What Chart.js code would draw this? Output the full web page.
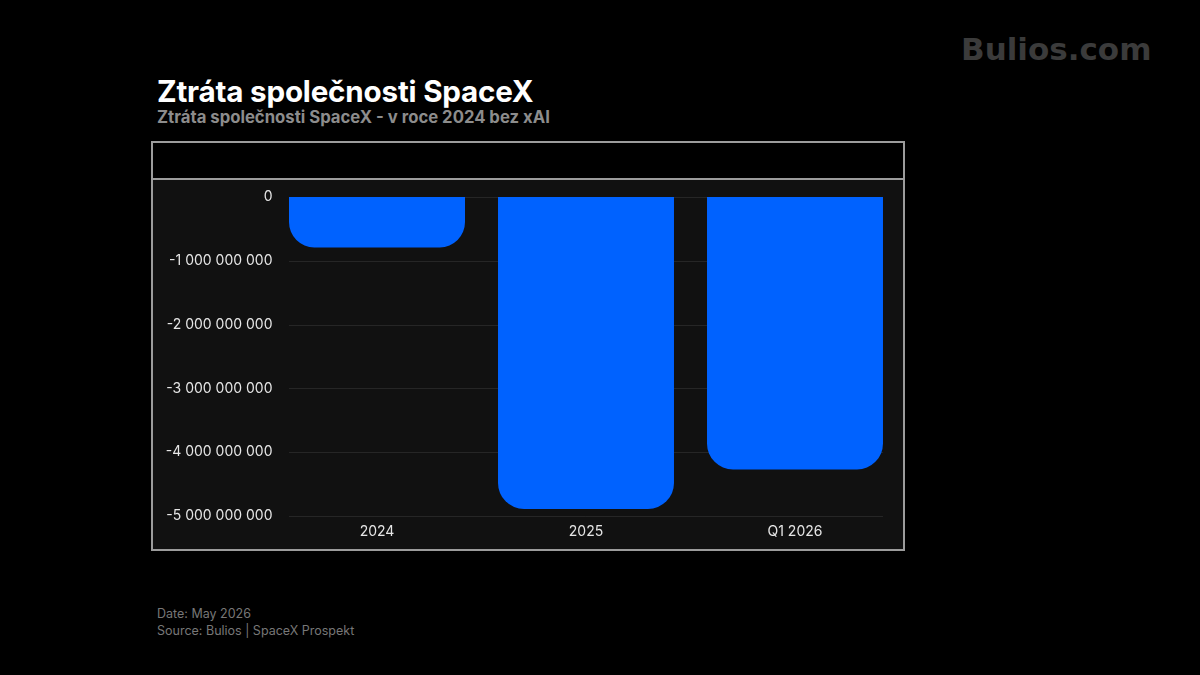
<!DOCTYPE html>
<html>
<head>
<meta charset="utf-8">
<script src="https://cdn.jsdelivr.net/npm/chart.js@4.4.1/dist/chart.umd.min.js"></script>
<style>
  html, body { margin:0; padding:0; background:#000; }
  body { width:1200px; height:675px; position:relative; overflow:hidden; font-family: Inter, "Noto Sans", sans-serif; }
  #title { position:absolute; left:157px; top:73px; font-size:29.6px; font-weight:700; color:#fff; letter-spacing:-0.2px; white-space:nowrap; }
  #subtitle { position:absolute; left:157px; top:107px; font-size:16.7px; font-weight:700; color:#8c8c8c; white-space:nowrap; }
  #logo { position:absolute; left:961px; top:31px; font-family:"DejaVu Sans", sans-serif; font-size:31px; font-weight:700; color:#3b3b3b; white-space:nowrap; }
  #footer { position:absolute; left:157px; top:605px; font-size:12.5px; color:#777; line-height:17px; white-space:nowrap; }
  #box { position:absolute; left:151px; top:141px; width:750px; height:406px; border:2px solid #9c9c9c; background:#000; }
  #plotbg { position:absolute; left:153px; top:180px; width:750px; height:369px; background:#111111; }
  #divider { position:absolute; left:153px; top:178px; width:750px; height:2px; background:#9c9c9c; }
  canvas { position:absolute; left:0; top:0; }
</style>
</head>
<body>
<div id="box"></div>
<div id="plotbg"></div>
<div id="divider"></div>
<div id="title">Ztráta společnosti SpaceX</div>
<div id="subtitle">Ztráta společnosti SpaceX - v roce 2024 bez xAI</div>
<div id="logo">Bulios.com</div>
<div id="footer">Date: May 2026<br>Source: Bulios | SpaceX Prospekt</div>
<canvas id="c" width="1200" height="675"></canvas>
<script>
const categories = ["2024", "2025", "Q1 2026"];
const lossValues = [-790000000, -4890000000, -4270000000];
const yTickValues = [0, -1000000000, -2000000000, -3000000000, -4000000000, -5000000000];

function fmt(v) {
  const neg = v < 0;
  const s = Math.abs(Math.round(v)).toString().replace(/\B(?=(\d{3})+(?!\d))/g, " ");
  return (neg ? "-" : "") + s;
}

const gridPlugin = {
  id: "customGrid",
  beforeDatasetsDraw(chart) {
    const ctx = chart.ctx;
    const y = chart.scales.y;
    const meta = chart.getDatasetMeta(0);
    const first = meta.data[0], last = meta.data[meta.data.length - 1];
    const left = first.x - first.width / 2;
    const right = last.x + last.width / 2;
    ctx.save();
    ctx.strokeStyle = "#262626";
    ctx.lineWidth = 1;
    y.ticks.forEach(t => {
      const py = Math.round(y.getPixelForValue(t.value)) + 0.5;
      ctx.beginPath();
      ctx.moveTo(left, py);
      ctx.lineTo(right, py);
      ctx.stroke();
    });
    ctx.restore();
  }
};

new Chart(document.getElementById("c"), {
  type: "bar",
  data: {
    labels: categories,
    datasets: [{
      data: lossValues,
      backgroundColor: "#0062FF",
      borderRadius: 26,
      borderSkipped: "start",
      barPercentage: 0.842,
      categoryPercentage: 1.0
    }]
  },
  options: {
    responsive: false,
    animation: false,
    devicePixelRatio: 1,
    layout: { padding: { left: 0, top: 197, right: 300.5, bottom: 129 } },
    plugins: { legend: { display: false }, tooltip: { enabled: false } },
    scales: {
      x: {
        grid: { display: false, drawTicks: false },
        border: { display: false },
        ticks: { color: "#e6e6e6", font: { family: "Inter", size: 14 }, padding: 7 },
        afterFit(s) { s.height = 30; }
      },
      y: {
        min: -5000000000,
        max: 0,
        afterBuildTicks(s) { s.ticks = yTickValues.map(v => ({ value: v })); },
        grid: { display: false, drawTicks: false },
        border: { display: false },
        ticks: { color: "#e6e6e6", font: { family: "Inter", size: 14 }, padding: 0, callback: v => fmt(v) },
        afterFit(s) { s.width = 272.5; }
      }
    }
  },
  plugins: [gridPlugin]
});
</script>
</body>
</html>
